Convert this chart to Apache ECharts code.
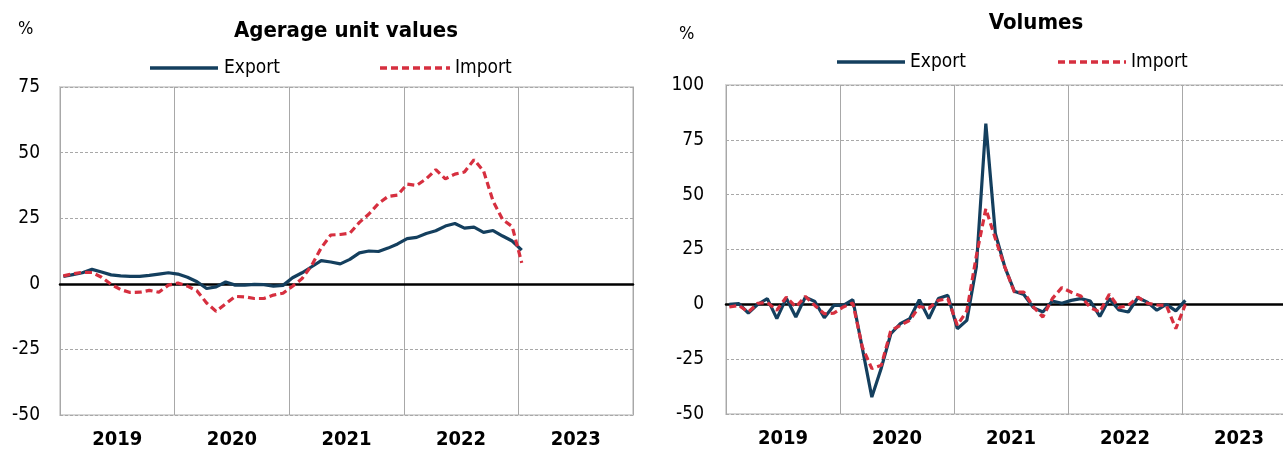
<!DOCTYPE html>
<html>
<head>
<meta charset="utf-8">
<script src="https://cdn.jsdelivr.net/npm/echarts@6/dist/echarts.min.js"></script>
<style>
html,body{margin:0;padding:0;background:#fff;overflow:hidden;width:1283px;height:451px;}
#chart{width:1300px;height:451px;}
</style>
</head>
<body>
<div id="chart"></div>
<script>
// ---- data ----
const years = ['2019', '2020', '2021', '2022', '2023'];
const leftTicks = [-50, -25, 0, 25, 50, 75];
const rightTicks = [-50, -25, 0, 25, 50, 75, 100];
const seriesNames = ['Export', 'Import'];

// Average unit values, y/y %, monthly Jan 2019 - Jan 2023
const unitExport = [2.8, 3.5, 4.2, 5.5, 4.5, 3.4, 3.0, 2.8, 2.8, 3.2, 3.7, 4.2,
  3.7, 2.5, 0.8, -1.8, -1.2, 0.7, -0.5, -0.5, -0.2, -0.3, -0.9, -0.6,
  2.3, 4.2, 6.5, 8.8, 8.3, 7.6, 9.3, 11.8, 12.5, 12.3, 13.6, 15.2,
  17.2, 17.7, 19.2, 20.2, 22.0, 23.0, 21.2, 21.6, 19.6, 20.3, 18.2, 16.3,
  12.8];
const unitImport = [3.0, 3.8, 4.4, 4.3, 2.5, -0.2, -2.2, -3.3, -3.2, -2.5, -3.2, -0.5,
  0.3, -0.9, -2.7, -7.3, -10.5, -7.6, -4.8, -5.0, -5.6, -5.6, -4.3, -3.6,
  -0.9, 2.0, 7.0, 13.7, 18.6, 18.8, 19.3, 23.4, 26.6, 30.6, 33.3, 33.8,
  38.0, 37.5, 40.0, 43.5, 40.0, 41.8, 42.6, 47.3, 43.0, 31.5, 24.5, 21.8,
  8.0];

// Volumes, y/y %, monthly Jan 2019 - Jan 2023
const volExport = [0, 0.3, -4.0, 0, 2.6, -6.5, 2.8, -5.8, 3.3, 1.3, -6.1, -0.5,
  -0.5, 2.1, -20.0, -42.3, -29.0, -13.4, -8.8, -6.5, 2.1, -6.5, 2.6, 4.1,
  -11.1, -7.3, 17.0, 82.4, 32.3, 17.0, 6.0, 4.5, -1.5, -3.5, 1.5, 0.5,
  1.8, 2.6, 1.5, -5.5, 2.6, -2.6, -3.5, 3.0, 1.0, -2.7, 0, -3.0,
  1.8];
const volImport = [-1.2, -0.5, -3.5, 0.5, 0.8, -2.7, 3.3, -1.2, 3.6, -0.5, -4.3, -4.0,
  -1.2, 0.6, -19.5, -29.3, -27.8, -11.9, -9.6, -7.3, -1.0, -1.8, 1.8, 2.6,
  -9.5, -3.0, 22.0, 43.6, 30.0, 17.0, 5.6, 5.6, -1.2, -5.8, 2.6, 7.6,
  5.5, 3.8, -1.5, -3.5, 4.6, -1.5, -0.5, 3.3, 0.5, -0.3, -0.5, -11.1,
  0];

// ---- build ----
const FONT = "'Liberation Sans Narrow','Arial Narrow','DejaVu Sans Condensed',sans-serif";
const EXP = '#143F5E';
const IMP = '#D62F3F';
const IMP_DASH = [7, 4];
const pairs = arr => arr.map((v, i) => [i + 0.35, v]);

function grid(left, width, top, bottom) {
  return { left, width, top, bottom, show: true, backgroundColor: '#fff',
           borderColor: '#d6d6d6', borderWidth: 2, containLabel: false };
}
function valX(gi) {
  return { type: 'value', gridIndex: gi, min: 0, max: 60, interval: 12,
    axisLine: { show: true, onZero: true, lineStyle: { color: '#000', width: 2.5 } },
    axisTick: { show: false }, axisLabel: { show: false },
    splitLine: { show: true, lineStyle: { color: '#a8a8a8', width: 1, type: 'solid' } } };
}
function catX(gi) {
  return { type: 'category', gridIndex: gi, data: years, boundaryGap: true, position: 'bottom',
    axisLine: { show: false }, axisTick: { show: false }, splitLine: { show: false },
    axisLabel: { margin: 15, fontFamily: FONT, fontSize: 20, fontWeight: 'bold', color: '#000' } };
}
function valY(gi, ticks, margin) {
  return { type: 'value', gridIndex: gi, min: ticks[0], max: ticks[ticks.length - 1], interval: 25,
    axisLine: { show: false }, axisTick: { show: false },
    axisLabel: { margin, fontFamily: FONT, fontSize: 19, color: '#000' },
    splitLine: { show: true, lineStyle: { color: '#a8a8a8', width: 1, type: [3, 2] } } };
}
function line(name, data, gi, color, dashed) {
  return { name, type: 'line', xAxisIndex: gi * 2, yAxisIndex: gi, data: pairs(data),
    symbol: 'none', smooth: false, z: dashed ? 4 : 3,
    lineStyle: { color, width: 3.2, type: dashed ? IMP_DASH : 'solid', cap: 'butt' },
    itemStyle: { color } };
}
function legendItem(x1, x2, y, tx, label, color, dashed) {
  return [
    { type: 'line', shape: { x1, y1: y, x2, y2: y },
      style: { stroke: color, lineWidth: 3.5, lineDash: dashed ? IMP_DASH : null } },
    { type: 'text', x: tx, y, style: { text: label, font: '19px ' + FONT, fill: '#000',
      textVerticalAlign: 'middle', verticalAlign: 'middle' } }
  ];
}

const chart = echarts.init(document.getElementById('chart'), null, { renderer: 'canvas' });
chart.setOption({
  animation: false,
  backgroundColor: '#fff',
  textStyle: { fontFamily: FONT },
  title: [
    { text: 'Agerage unit values', left: 341, top: 15, textAlign: 'center',
      textStyle: { fontFamily: FONT, fontSize: 22, fontWeight: 'bold', color: '#000' } },
    { text: 'Volumes', left: 1031, top: 7, textAlign: 'center',
      textStyle: { fontFamily: FONT, fontSize: 22, fontWeight: 'bold', color: '#000' } }
  ],
  graphic: [
    { type: 'text', left: 18, top: 20, style: { text: '%', font: '18px ' + FONT, fill: '#000' } },
    { type: 'text', left: 679, top: 25, style: { text: '%', font: '18px ' + FONT, fill: '#000' } },
    ...legendItem(150, 218, 68, 224, seriesNames[0], EXP, false),
    ...legendItem(380, 450, 68, 455, seriesNames[1], IMP, true),
    ...legendItem(837, 905, 62, 910, seriesNames[0], EXP, false),
    ...legendItem(1058, 1126, 62, 1131, seriesNames[1], IMP, true)
  ],
  grid: [grid(60, 573, 87, 36), grid(726, 570, 85, 37)],
  xAxis: [valX(0), catX(0), valX(1), catX(1)],
  yAxis: [valY(0, leftTicks, 20), valY(1, rightTicks, 22)],
  series: [
    line(seriesNames[0], unitExport, 0, EXP, false),
    line(seriesNames[1], unitImport, 0, IMP, true),
    line(seriesNames[0], volExport, 1, EXP, false),
    line(seriesNames[1], volImport, 1, IMP, true)
  ]
});
</script>
</body>
</html>
